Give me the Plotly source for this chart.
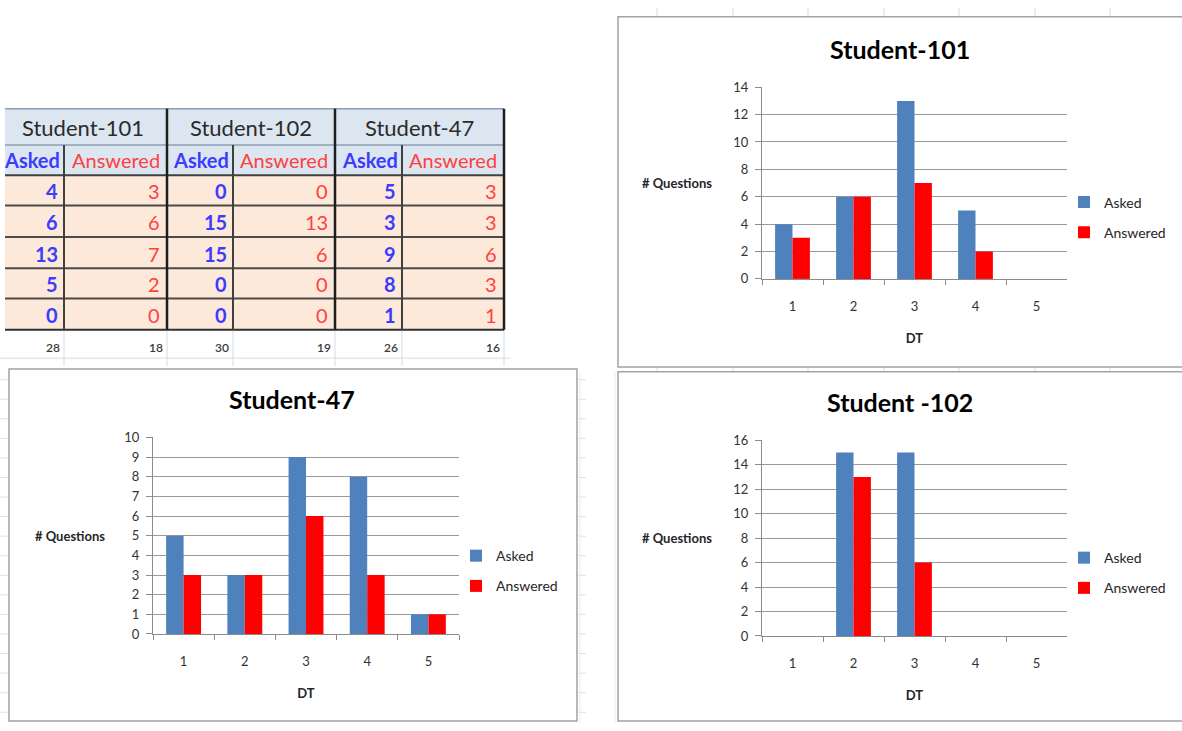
import plotly.graph_objects as go

W, H = 1182, 731
FONT = "Lato"

# ---------------- data ----------------
dt_labels = ["1", "2", "3", "4", "5"]
series_names = ["Asked", "Answered"]
students = ["Student-101", "Student-102", "Student-47"]
chart_titles = ["Student-101", "Student -102", "Student-47"]

s101_asked = [4, 6, 13, 5, 0]
s101_answered = [3, 6, 7, 2, 0]
s102_asked = [0, 15, 15, 0, 0]
s102_answered = [0, 13, 6, 0, 0]
s47_asked = [5, 3, 9, 8, 1]
s47_answered = [3, 3, 6, 3, 1]

y_title = "# Questions"
x_title = "DT"

# ---------------- styles ----------------
BAR_BLUE = "#4f81bd"
BAR_RED = "#ff0000"
TXT_BLUE = "#3c3cff"
TXT_RED = "#ff4040"
AX_GRAY = "#8c8c8c"
GRID_GRAY = "#9a9a9a"


def fx(p):
    return p / W


def fy(p):
    return 1 - p / H


fig = go.Figure()
shapes = []
annotations = []

# ---------------- spreadsheet table ----------------
col_edges = [-2, 64, 167, 233, 335, 402, 504]
row_edges = [103, 140, 171, 202, 234, 266, 297, 329]
total_row_y = 347
tbl_left = 5


def rect(x0, y0, x1, y1, fill, line_color=None, line_width=0):
    shapes.append(dict(type="rect", xref="paper", yref="paper",
                       x0=fx(x0), x1=fx(x1), y0=fy(y1), y1=fy(y0),
                       fillcolor=fill, layer="below",
                       line=dict(color=line_color or fill, width=line_width)))


def line(x0, y0, x1, y1, color, width):
    shapes.append(dict(type="line", xref="paper", yref="paper",
                       x0=fx(x0), x1=fx(x1), y0=fy(y0), y1=fy(y1),
                       layer="below", line=dict(color=color, width=width)))


def text(x, y, s, size, color, xanchor="center", weight=400):
    annotations.append(dict(xref="paper", yref="paper", x=fx(x), y=fy(y),
                            text=s, showarrow=False, xanchor=xanchor,
                            yanchor="middle",
                            font=dict(family=FONT, size=size, color=color,
                                      weight=weight)))


# faint spreadsheet grid below the table
for xe in col_edges[1:]:
    line(xe, row_edges[-1], xe, 366, "#d5dce6", 1)
line(0, 358, 510, 358, "#d5dce6", 1)

# faint spreadsheet ticks visible around the chart panels
for xe in [657, 733, 808, 884, 959, 1035, 1110]:
    line(xe, 0, xe, 9, "#dcdcdc", 1)
    line(xe, 367, xe, 372, "#dcdcdc", 1)
for ye in range(380, 731, 20):
    line(0, ye, 9, ye, "#e2e2e2", 1)
    line(578, ye, 586, ye, "#e2e2e2", 1)
line(580, 372, 580, 731, "#e6eaf0", 1)
line(615, 372, 615, 731, "#e6eaf0", 1)

# backgrounds
rect(tbl_left, row_edges[0], col_edges[-1], row_edges[2], "#dce6f1")
rect(tbl_left, row_edges[2], col_edges[-1], row_edges[-1], "#fde9d9")

# borders
line(tbl_left, row_edges[0], col_edges[-1], row_edges[0], "#8c9cb2", 1.5)
line(tbl_left, row_edges[1], col_edges[-1], row_edges[1], "#8c9cb2", 1.5)
line(tbl_left, row_edges[2], col_edges[-1], row_edges[2], "#404040", 2)
for ry in row_edges[3:-1]:
    line(tbl_left, ry, col_edges[-1], ry, "#4a4a4a", 2)
line(tbl_left, row_edges[-1], col_edges[-1], row_edges[-1], "#303030", 2)
for ci in (1, 3, 5):
    line(col_edges[ci], row_edges[1], col_edges[ci], row_edges[-1], "#404040", 2)
for ci in (2, 4, 6):
    line(col_edges[ci], row_edges[0], col_edges[ci], row_edges[-1], "#1e1e1e", 2.5)

table_data = [(s101_asked, s101_answered), (s102_asked, s102_answered),
              (s47_asked, s47_answered)]

for g, (stu, (ask, ans)) in enumerate(zip(students, table_data)):
    ca, cb = 2 * g, 2 * g + 1
    gx = (col_edges[ca] + col_edges[cb + 1]) / 2
    text(gx, (row_edges[0] + row_edges[1]) / 2 + 1, stu, 22, "#2b2b2b")
    text((col_edges[ca] + col_edges[ca + 1]) / 2 + 1,
         (row_edges[1] + row_edges[2]) / 2, series_names[0], 20, TXT_BLUE,
         weight=700)
    text((col_edges[cb] + col_edges[cb + 1]) / 2,
         (row_edges[1] + row_edges[2]) / 2, series_names[1], 20, TXT_RED)
    for r in range(len(dt_labels)):
        yc = (row_edges[2 + r] + row_edges[3 + r]) / 2 + 1
        text(col_edges[ca + 1] - 4, yc, str(ask[r]), 20, TXT_BLUE,
             xanchor="right", weight=700)
        text(col_edges[cb + 1] - 5, yc, str(ans[r]), 20, TXT_RED,
             xanchor="right")
    text(col_edges[ca + 1] - 2, total_row_y, str(sum(ask)), 12, "#3a3a3a",
         xanchor="right", weight=600)
    text(col_edges[cb + 1] - 2, total_row_y, str(sum(ans)), 12, "#3a3a3a",
         xanchor="right", weight=600)

# ---------------- charts ----------------
charts = [
    dict(ask=s101_asked, ans=s101_answered, title=chart_titles[0], ymax=14,
         dtick=2, x0=762, x1=1067, ytop=81, ybot=277,
         panel=(618, 9, 1200, 367), title_x=900, ylab_x=677, leg_x=1064,
         leg_y=199.5),
    dict(ask=s102_asked, ans=s102_answered, title=chart_titles[1], ymax=16,
         dtick=2, x0=762, x1=1067, ytop=442, ybot=642,
         panel=(618, 372, 1200, 729), title_x=900, ylab_x=677, leg_x=1064,
         leg_y=563),
    dict(ask=s47_asked, ans=s47_answered, title=chart_titles[2], ymax=10,
         dtick=1, x0=153, x1=459, ytop=439, ybot=640,
         panel=(9, 369, 577, 729), title_x=292, ylab_x=70, leg_x=456,
         leg_y=561),
]

layout_extra = {}
for i, c in enumerate(charts):
    k = "" if i == 0 else str(i + 1)
    leg = "legend" + k
    px0, py0, px1, py1 = c["panel"]
    rect(px0, py0, px1, py1, "white", "#a3a3a3", 1.5)

    for name, vals, color in [(series_names[0], c["ask"], BAR_BLUE),
                              (series_names[1], c["ans"], BAR_RED)]:
        fig.add_trace(go.Bar(x=dt_labels, y=vals, name=name,
                             marker=dict(color=color, line=dict(width=0)),
                             xaxis="x" + k, yaxis="y" + k, legend=leg,
                             legendgroup=name + k, hoverinfo="x+y+name"))

    layout_extra["xaxis" + k] = dict(
        domain=[fx(c["x0"]), fx(c["x1"])], anchor="y" + k, type="category",
        range=[-0.5, 4.5], tickson="boundaries", ticks="outside", ticklen=5,
        tickcolor=AX_GRAY, showline=True, linecolor=AX_GRAY, linewidth=1,
        showgrid=False, zeroline=False, ticklabelstandoff=15,
        tickfont=dict(family=FONT, size=13, color="#333333"),
        title=dict(text=x_title, standoff=21,
                   font=dict(family=FONT, size=13, color="#262626",
                             weight=700)),
        fixedrange=True)
    layout_extra["yaxis" + k] = dict(
        domain=[fy(c["ybot"]), fy(c["ytop"])], anchor="x" + k,
        range=[0, c["ymax"]], dtick=c["dtick"], tick0=0, ticks="outside",
        ticklen=6, tickcolor=AX_GRAY, showline=True, linecolor=AX_GRAY,
        linewidth=1, showgrid=True, gridcolor=GRID_GRAY, gridwidth=1.3,
        zeroline=False, ticklabelstandoff=4,
        tickfont=dict(family=FONT, size=13, color="#333333"),
        fixedrange=True)
    layout_extra[leg] = dict(
        x=fx(c["leg_x"]), y=fy(c["leg_y"] - 17), xanchor="left",
        yanchor="top", bgcolor="rgba(0,0,0,0)", borderwidth=0,
        traceorder="grouped", tracegroupgap=9,
        font=dict(family=FONT, size=14, color="#262626"))

    # chart title
    text(c["title_x"], c["ytop"] - 39, c["title"], 25, "#000000", weight=700)
    # horizontal y-axis title
    text(c["ylab_x"], (c["ytop"] + c["ybot"]) / 2, y_title, 13, "#262626",
         weight=700)

fig.update_layout(
    width=W, height=H, margin=dict(l=0, r=0, t=0, b=0, pad=0),
    paper_bgcolor="white", plot_bgcolor="rgba(0,0,0,0)",
    barmode="group", bargap=0.43, bargroupgap=0,
    shapes=shapes, annotations=annotations,
    font=dict(family=FONT, color="#262626"),
    showlegend=True,
    **layout_extra,
)

fig.write_html("out.html", config={"displayModeBar": False})
